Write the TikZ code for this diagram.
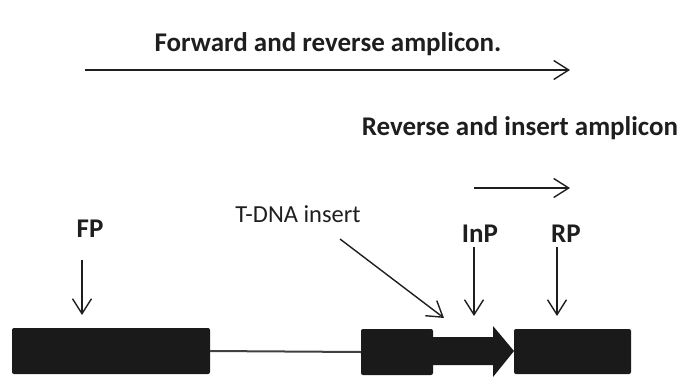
\documentclass[tikz,border=0pt]{standalone}
\usepackage{fontspec}
\setmainfont{Carlito}
\usetikzlibrary{arrows.meta}
\definecolor{ink}{HTML}{1E1E1E}
\definecolor{boxfill}{HTML}{1A1A1A}
\begin{document}
\begin{tikzpicture}[x=1pt,y=-1pt,
  lbl/.style={inner sep=0pt,text=ink,font=\fontsize{27}{32}\selectfont\bfseries,anchor=base},
  lblreg/.style={inner sep=0pt,text=ink,font=\fontsize{24.5}{29}\selectfont,anchor=base},
  conn/.style={draw=ink,line width=1.4pt,-{Straight Barb[length=15pt,width=19pt,line width=1.4pt]}},
  exon/.style={fill=boxfill,rounded corners=2pt,inner sep=0pt,outer sep=0pt,anchor=north west}]
\useasboundingbox (0,0) rectangle (685,380);
% titles
\node[lbl] (t1) at (328,51) {Forward and reverse amplicon.};
\coordinate (a1s) at (85,70);
\coordinate (a1e) at (570,70);
\draw[conn] (a1s) -- (a1e);
\node[lbl] (t2) at (520,135) {Reverse and insert amplicon};
\coordinate (a2s) at (474,188);
\coordinate (a2e) at (570,188);
\draw[conn] (a2s) -- (a2e);
% gene structure
\node[exon,minimum width=198pt,minimum height=46pt] (box1) at (12,328) {};
\node[exon,minimum width=72pt,minimum height=46pt] (box2) at (361,329) {};
\node[exon,minimum width=117pt,minimum height=45pt] (box3) at (514,329) {};
\draw[draw=ink!85,line width=2pt] (box1.east) -- (box2.west);
\fill[boxfill] (431,337) -- (493,337) -- (493,326) -- (514,351) -- (493,377) -- (493,365) -- (431,365) -- cycle;
% labels
\node[lbl] (fp) at (90,237) {FP};
\node[lbl] (inp) at (480,242) {InP};
\node[lbl] (rp) at (566,242) {RP};
\node[lblreg] (tdna) at (298,222) {T-DNA insert};
\coordinate (fps) at (82,260);
\coordinate (fpe) at (82,315);
\coordinate (inps) at (474,247);
\coordinate (inpe) at (474,316);
\coordinate (rps) at (557,247);
\coordinate (rpe) at (557,316);
\coordinate (tds) at (340,239);
\coordinate (tde) at (444,318);
\draw[conn] (fps) -- (fpe);
\draw[conn] (inps) -- (inpe);
\draw[conn] (rps) -- (rpe);
\draw[conn] (tds) -- (tde);
\end{tikzpicture}
\end{document}
